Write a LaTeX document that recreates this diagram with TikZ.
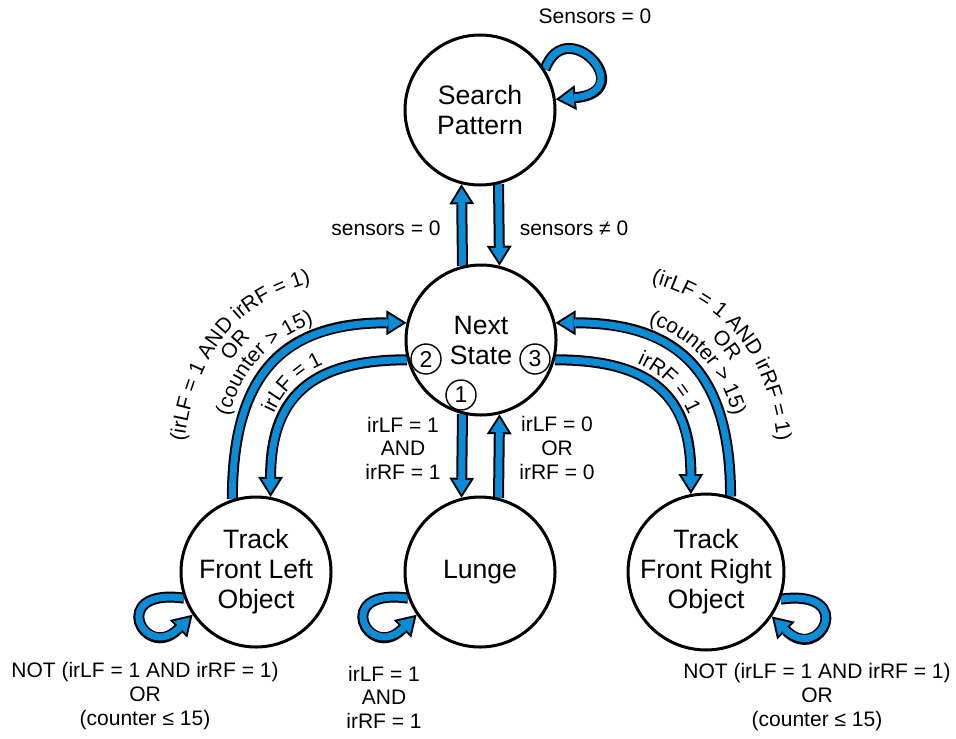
\documentclass[tikz,border=0pt]{standalone}
\usepackage{fontspec}
\setmainfont{Liberation Sans}
\usetikzlibrary{arrows.meta, decorations.text, backgrounds}
\definecolor{flow-blue}{HTML}{0A8CD6}
\newcommand{\condsize}{\fontsize{10.5}{11.8}\selectfont}
\newcommand{\statesize}{\fontsize{13.3}{15}\selectfont}

\tikzset{
  state/.style={circle, draw, line width=1.5pt, minimum size=75pt, inner sep=0pt, align=center, font=\statesize},
  num/.style={circle, draw, fill=white, line width=0.7pt, minimum size=15pt, inner sep=0pt, font=\fontsize{11.5}{12}\selectfont},
  cond/.style={align=center, font=\condsize},
  flow/.style={draw=flow-blue, line width=3.5pt, shorten >=1.9pt,
    -{Triangle[length=7.1pt, width=8.9pt, line width=0pt]},
    preaction={draw=black, line width=5.5pt, shorten >=0pt,
      -{Triangle[length=10pt, width=12.5pt, line width=0pt]}}},
  curvetext/.style={decorate, decoration={text along path, text align=center, text={|\condsize|#1}}},
}

\begin{document}
\begin{tikzpicture}[x=0.5pt, y=0.5pt]
  \useasboundingbox (0,0) rectangle (956,-738);
  % states
  \node[state] (sp) at (480,-110) {Search\\Pattern};
  \node[state] (ns) at (481,-340) {Next\\State};
  \node[state] (tfl) at (256,-572) {Track\\Front Left\\Object};
  \node[state] (lunge) at (480,-572) {Lunge};
  \node[state] (tfr) at (706,-572) {Track\\Front Right\\Object};
  % entry marks on next state
  \node[num] (n1) at (461,-395) {1};
  \node[num] (n2) at (426,-359) {2};
  \node[num] (n3) at (535,-359) {3};
  % transitions
  \begin{scope}[on background layer]
    \draw[flow] (ns.104) -- (sp.256);
    \draw[flow] (sp.284) -- (ns.76);
    \draw[flow] (ns.256) -- (lunge.104);
    \draw[flow] (lunge.76) -- (ns.284);
    \draw[flow] (tfl.108) to[out=90, in=180, looseness=1.28] (ns.167);
    \draw[flow] (ns.195) to[out=180, in=90, looseness=1.3] (tfl.79);
    \draw[flow] (tfr.72) to[out=90, in=0, looseness=1.28] (ns.13);
    \draw[flow] (ns.345) to[out=0, in=90, looseness=1.3] (tfr.101);
    % self loops
    \draw[flow] (sp.32) .. controls +(70:62) and +(5:85) .. (sp.8);
    \draw[flow] (tfl.200) .. controls +(172:78) and +(225:68) .. (tfl.214);
    \draw[flow] (lunge.200) .. controls +(172:78) and +(225:68) .. (lunge.214);
    \draw[flow] (tfr.340) .. controls +(8:78) and +(-45:68) .. (tfr.326);
  \end{scope}
  % conditions
  \node[cond] (lsens) at (595,-16) {Sensors = 0};
  \node[cond] (lup) at (386,-228) {sensors = 0};
  \node[cond] (ldown) at (574,-228) {sensors ≠ 0};
  \node[cond] (lgo) at (403,-448) {irLF = 1\\AND\\irRF = 1};
  \node[cond] (lback) at (557,-448) {irLF = 0\\OR\\irRF = 0};
  \node[cond] (lstay) at (384,-697) {irLF = 1\\AND\\irRF = 1};
  \node[cond] (lleft) at (145,-696) {NOT (irLF = 1 AND irRF = 1)\\OR\\(counter ≤ 15)};
  \node[cond] (lright) at (817,-697) {NOT (irLF = 1 AND irRF = 1)\\OR\\(counter ≤ 15)};
  % curved conditions, left
  \path[curvetext={(irLF = 1 AND irRF = 1)}] (181,-538) -- (181,-500) to[out=90, in=180, looseness=1.28] (407,-272);
  \path[curvetext={OR}] (200,-524) -- (200,-500) to[out=90, in=180, looseness=1.28] (407,-291);
  \path[curvetext={(counter > 15)}] (219,-510) -- (219,-500) to[out=90, in=180, looseness=1.28] (407,-310);
  \path[curvetext={irLF = 1}] (260,-497) to[out=90, in=180, looseness=1.3] (407,-350);
  % curved conditions, right
  \path[curvetext={(irLF = 1 AND irRF = 1)}] (555,-272) to[out=0, in=90, looseness=1.28] (781,-500) -- (781,-538);
  \path[curvetext={OR}] (555,-291) to[out=0, in=90, looseness=1.28] (762,-500) -- (762,-524);
  \path[curvetext={(counter > 15)}] (555,-310) to[out=0, in=90, looseness=1.28] (743,-500) -- (743,-510);
  \path[curvetext={irRF = 1}] (555,-350) to[out=0, in=90, looseness=1.3] (702,-497);
\end{tikzpicture}
\end{document}
